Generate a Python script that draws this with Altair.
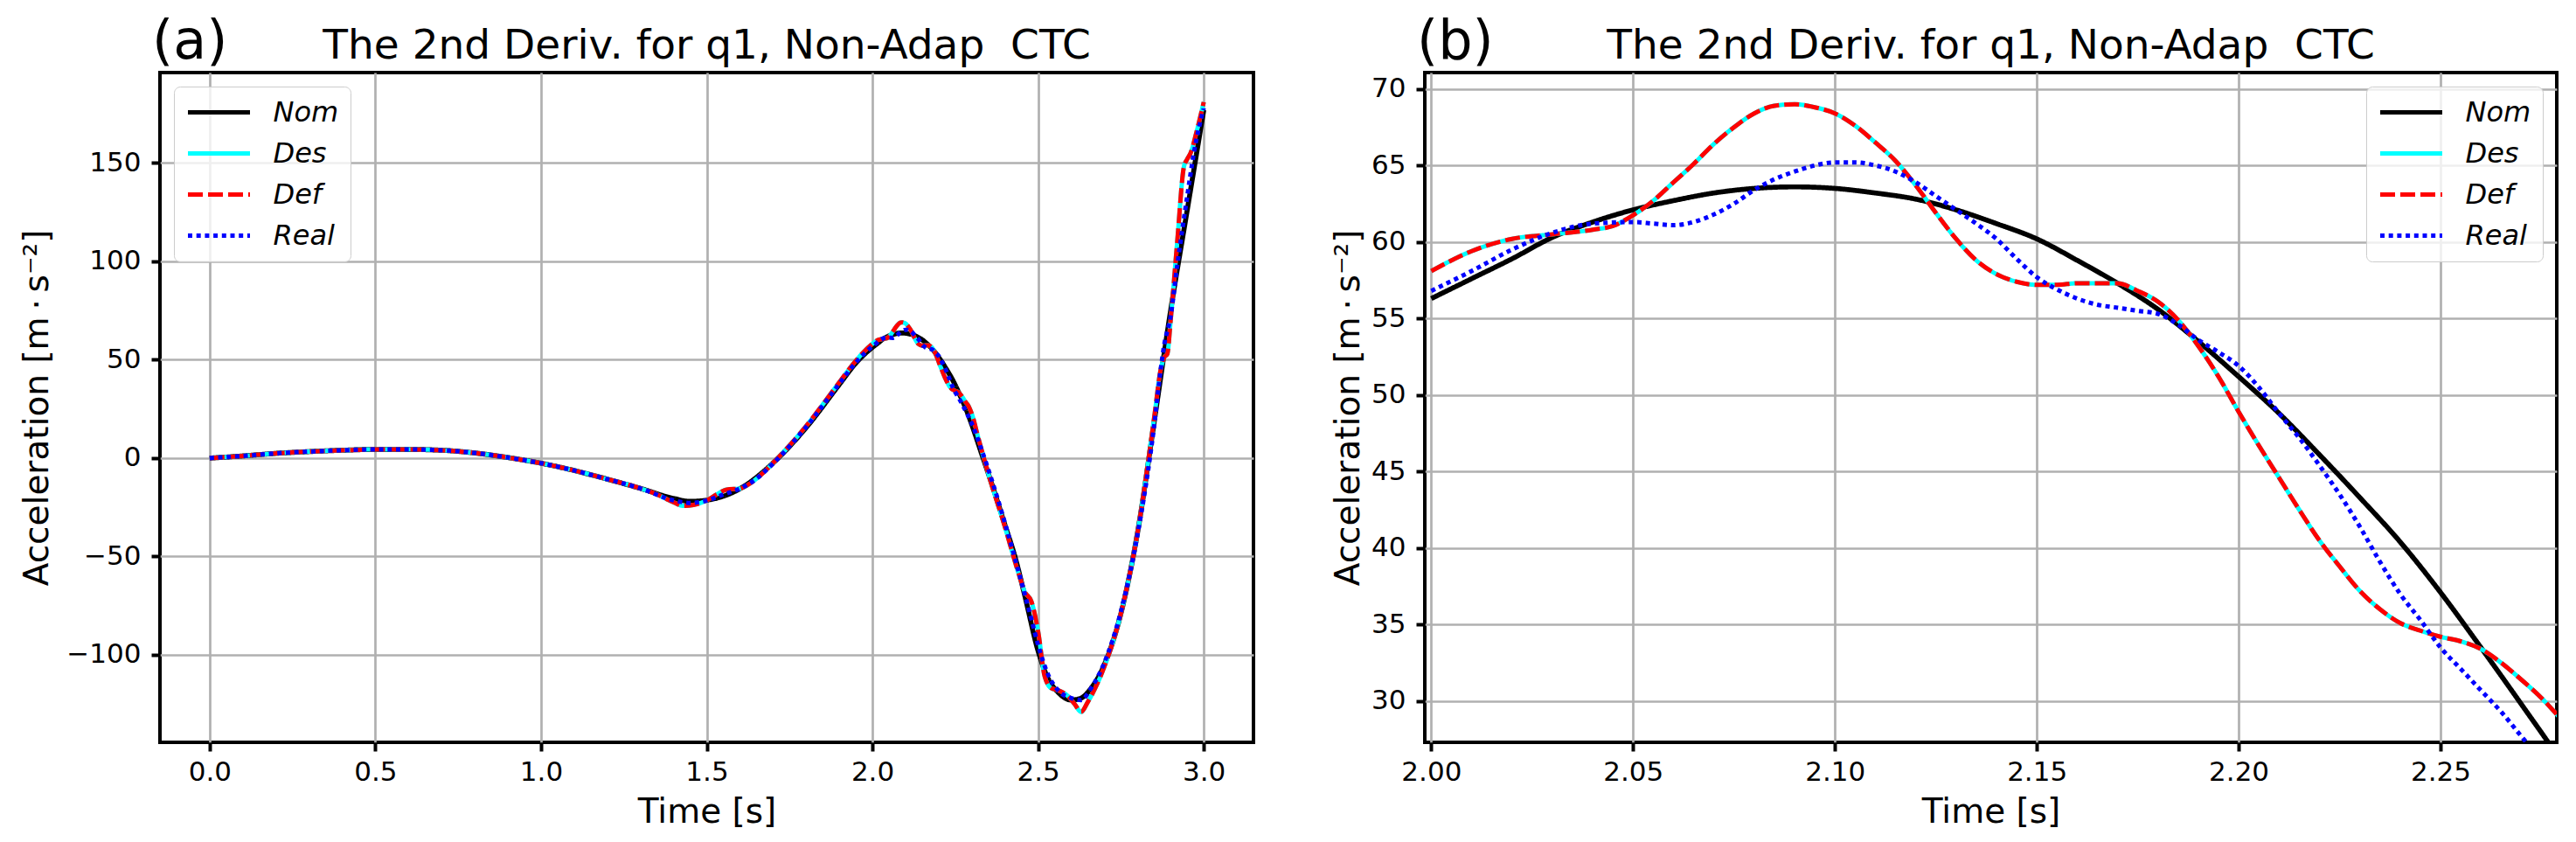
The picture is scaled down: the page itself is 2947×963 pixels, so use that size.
import altair as alt
import pandas as pd

FONT = "DejaVu Sans"
TITLE = "The 2nd Deriv. for q1, Non-Adap\u00a0 CTC"
YTITLE = "Acceleration [m\u2009·\u2009s⁻²]"

SERIES = ["Nom", "Des", "Def", "Real"]
COLORS = ["#000000", "#00ffff", "#ff0000", "#0000ff"]
DASHES = [[1, 0], [1, 0], [17, 6], [5, 4.7]]
WIDTHS = [5.7, 5, 5, 5]

# ---- Nominal (black) ----
NOM_T = [0.0, 0.1, 0.2, 0.3, 0.4, 0.5, 0.6, 0.7, 0.8, 0.9, 1.0, 1.1, 1.2, 1.3,
         1.4, 1.45, 1.5, 1.6, 1.7, 1.8, 1.9, 1.95,
         2.0, 2.01, 2.02, 2.03, 2.04, 2.05, 2.06, 2.07, 2.08, 2.09, 2.10, 2.11,
         2.12, 2.13, 2.14, 2.15, 2.16, 2.17, 2.18, 2.19, 2.20, 2.21, 2.22, 2.23,
         2.24, 2.25, 2.26, 2.27, 2.28,
         2.30, 2.33, 2.36, 2.40, 2.43, 2.46, 2.50, 2.53, 2.56, 2.60, 2.63, 2.66,
         2.70, 2.75, 2.80, 2.85, 2.90, 2.95, 3.0]
NOM_V = [0.0, 1.1, 2.4, 3.3, 4.0, 4.4, 4.4, 4.0, 2.6, 0.3, -2.6, -6.3, -10.7, -15.4,
         -20.5, -22.0, -21.4, -15.6, -2.5, 15.5, 37.4, 48.3,
         56.3, 57.6, 58.9, 60.3, 61.3, 62.1, 62.7, 63.2, 63.5, 63.6, 63.5, 63.2,
         62.8, 62.1, 61.2, 60.2, 58.8, 57.3, 55.6, 53.5, 51.2, 48.8, 46.1, 43.3,
         40.4, 37.1, 33.5, 29.8, 26.0,
         17.0, 2.0, -13.0, -34.0, -50.0, -70.0, -98.0, -112.0, -119.0, -123.0, -122.0, -117.0,
         -105.0, -79.0, -38.0, 18.0, 75.0, 126.0, 177.0]

# ---- Desired (cyan) ----
DES_T = [0.0, 0.1, 0.2, 0.3, 0.4, 0.5, 0.6, 0.7, 0.8, 0.9, 1.0, 1.1, 1.2, 1.3,
         1.35, 1.4, 1.43, 1.46, 1.5, 1.53, 1.56, 1.6, 1.63, 1.67, 1.7, 1.8, 1.9, 1.95,
         2.0, 2.01, 2.02, 2.03, 2.04, 2.045, 2.05, 2.055, 2.06, 2.065, 2.07, 2.075,
         2.08, 2.085, 2.09, 2.095, 2.10, 2.105, 2.11, 2.115, 2.12, 2.125, 2.13, 2.135,
         2.14, 2.145, 2.15, 2.155, 2.16, 2.165, 2.17, 2.175, 2.18, 2.185, 2.19, 2.195,
         2.20, 2.205, 2.21, 2.215, 2.22, 2.225, 2.23, 2.235, 2.24, 2.245, 2.25, 2.255,
         2.26, 2.265, 2.27, 2.275, 2.28,
         2.29, 2.30, 2.32, 2.35, 2.40, 2.44, 2.46, 2.48, 2.50, 2.52, 2.54, 2.56, 2.59,
         2.61, 2.63, 2.65, 2.70, 2.75, 2.80, 2.85, 2.87, 2.88, 2.89, 2.90, 2.92, 2.94,
         2.95, 2.96, 2.98, 3.0]
DES_V = [0.0, 1.1, 2.4, 3.3, 4.0, 4.4, 4.4, 4.0, 2.6, 0.3, -2.6, -6.3, -10.7, -15.4,
         -18.5, -22.5, -24.3, -23.8, -21.5, -18.5, -16.0, -15.5, -13.0, -7.5, -2.5, 16.3, 38.5, 49.5,
         58.1, 59.4, 60.2, 60.5, 60.8, 61.05, 61.75, 62.7, 63.9, 65.1, 66.4, 67.5,
         68.4, 68.9, 69.0, 68.8, 68.4, 67.6, 66.5, 65.3, 63.7, 61.9, 60.2, 58.8,
         57.9, 57.4, 57.2, 57.2, 57.3, 57.3, 57.3, 56.8, 56.1, 54.9, 53.2, 51.2,
         48.9, 46.7, 44.6, 42.5, 40.5, 38.8, 37.2, 36.0, 35.1, 34.6, 34.2, 33.9,
         33.4, 32.5, 31.4, 30.2, 28.8,
         26.5, 22.5, 10.0, -8.0, -35.0, -58.0, -68.0, -73.0, -88.0, -111.0, -117.0, -118.0, -121.0,
         -125.0, -129.0, -124.0, -106.0, -79.0, -38.0, 20.0, 45.0, 51.0, 53.0, 70.0, 110.0, 148.0,
         152.0, 155.0, 167.0, 181.0]

# ---- Deformed (red dashed) : read as lying on the cyan curve ----
DEF_T = list(DES_T)
DEF_V = list(DES_V)

# ---- Real (blue dotted) ----
REAL_T = [0.0, 0.1, 0.2, 0.3, 0.4, 0.5, 0.6, 0.7, 0.8, 0.9, 1.0, 1.1, 1.2, 1.3,
          1.4, 1.45, 1.5, 1.55, 1.6, 1.65, 1.7, 1.8, 1.9, 1.95,
          2.0, 2.01, 2.02, 2.03, 2.04, 2.05, 2.055, 2.06, 2.065, 2.07, 2.075, 2.08,
          2.085, 2.09, 2.095, 2.10, 2.105, 2.11, 2.115, 2.12, 2.125, 2.13, 2.135, 2.14,
          2.145, 2.15, 2.155, 2.16, 2.165, 2.17, 2.175, 2.18, 2.185, 2.19, 2.195, 2.20,
          2.205, 2.21, 2.215, 2.22, 2.225, 2.23, 2.235, 2.24, 2.245, 2.25, 2.255, 2.26,
          2.265, 2.27, 2.28,
          2.30, 2.33, 2.36, 2.40, 2.44, 2.48, 2.50, 2.53, 2.56, 2.60, 2.63, 2.66, 2.70,
          2.75, 2.80, 2.85, 2.87, 2.88, 2.90, 2.92, 2.95, 2.97, 3.0]
REAL_V = [0.0, 1.1, 2.4, 3.3, 4.0, 4.4, 4.4, 4.0, 2.6, 0.3, -2.6, -6.3, -10.7, -15.4,
          -21.5, -22.8, -21.6, -18.5, -15.5, -10.5, -2.8, 15.8, 37.8, 48.6,
          56.8, 58.1, 59.5, 60.6, 61.2, 61.3, 61.2, 61.1, 61.3, 61.8, 62.5, 63.4,
          64.1, 64.6, 65.0, 65.2, 65.2, 65.0, 64.6, 63.9, 63.0, 62.1, 61.2, 60.2,
          58.9, 57.7, 56.9, 56.3, 55.9, 55.7, 55.5, 55.3, 54.6, 53.6, 52.8, 51.9,
          50.5, 48.8, 47.2, 45.4, 43.5, 41.4, 39.1, 37.0, 35.3, 33.5, 32.1, 30.7,
          29.3, 27.7, 24.5,
          17.5, 4.0, -11.0, -33.0, -57.0, -82.0, -95.0, -110.0, -118.0, -122.0, -123.0, -117.0, -104.0,
          -78.0, -39.0, 16.0, 45.0, 57.0, 72.0, 98.0, 133.0, 155.0, 178.0]

rows = []
for name, ts, vs in [("Nom", NOM_T, NOM_V), ("Des", DES_T, DES_V),
                     ("Def", DEF_T, DEF_V), ("Real", REAL_T, REAL_V)]:
    for t, v in zip(ts, vs):
        rows.append({"series": name, "t": t, "v": v})
df = pd.DataFrame(rows)

legend_common = dict(
    title=None, offset=16, symbolType="stroke", symbolSize=5041, symbolStrokeWidth=5,
    labelFont=FONT, labelFontStyle="italic", labelFontSize=32, labelColor="black",
    labelOffset=24, rowPadding=15, padding=13.5, labelLimit=400, clipHeight=32,
    fillColor="rgba(255,255,255,0.8)", strokeColor="#cccccc", cornerRadius=7,
)


def panel(tag, xdom, ydom, xvals, yvals, xfmt, w, h, legend_orient,
          y_extent, y_tpad, tmin, tmax):
    leg = alt.Legend(orient=legend_orient, **legend_common)
    color = alt.Color("series:N", scale=alt.Scale(domain=SERIES, range=COLORS), legend=leg)
    dash = alt.StrokeDash("series:N", scale=alt.Scale(domain=SERIES, range=DASHES), legend=leg)
    x = alt.X("t:Q", scale=alt.Scale(domain=xdom, nice=False, zero=False),
              axis=alt.Axis(values=xvals, format=xfmt, title="Time [s]", grid=True,
                            gridColor="#b0b0b0", gridWidth=2.7, domain=False,
                            tickColor="black", tickWidth=4, tickSize=10,
                            labelFont=FONT, labelFontSize=31, labelColor="black",
                            labelPadding=9, labelFlush=False, labelOverlap=False,
                            titleFont=FONT, titleFontSize=39, titleFontWeight="normal",
                            titleColor="black", titlePadding=10.5,
                            minExtent=50, maxExtent=50))
    y = alt.Y("v:Q", scale=alt.Scale(domain=ydom, nice=False, zero=False),
              axis=alt.Axis(values=yvals, format="d", title=YTITLE, grid=True,
                            gridColor="#b0b0b0", gridWidth=2.7, domain=False,
                            tickColor="black", tickWidth=4, tickSize=10,
                            labelFont=FONT, labelFontSize=31, labelColor="black",
                            labelPadding=12, labelFlush=False, labelOverlap=False,
                            titleFont=FONT, titleFontSize=39, titleFontWeight="normal",
                            titleColor="black", titlePadding=y_tpad,
                            minExtent=y_extent, maxExtent=y_extent))
    layers = []
    for s, sw in zip(SERIES, WIDTHS):
        layers.append(
            alt.Chart(df)
            .transform_filter(alt.datum.series == s)
            .transform_filter((alt.datum.t >= tmin) & (alt.datum.t <= tmax))
            .mark_line(interpolate="monotone", strokeWidth=sw, clip=True)
            .encode(x=x, y=y, color=color, strokeDash=dash)
        )
    tag_layer = alt.Chart(pd.DataFrame({"label": [tag]})).mark_text(
        align="left", baseline="alphabetic", fontSize=62, font=FONT, color="black"
    ).encode(text="label:N", x=alt.value(-9), y=alt.value(-16.5))
    title_layer = alt.Chart(pd.DataFrame({"label": [TITLE]})).mark_text(
        align="center", baseline="alphabetic", fontSize=47, font=FONT, color="black"
    ).encode(text="label:N", x=alt.value(w / 2), y=alt.value(-16.5))
    return alt.layer(*layers, tag_layer, title_layer).properties(width=w, height=h)


pa = panel("(a)", [-0.15, 3.15], [-144.5, 196.0],
           [0.0, 0.5, 1.0, 1.5, 2.0, 2.5, 3.0], [-100, -50, 0, 50, 100, 150],
           ".1f", 1251, 766, "top-left", 107.5, 13, -1, 4)
pb = panel("(b)", [1.9984, 2.2788], [27.3, 71.07],
           [2.0, 2.05, 2.1, 2.15, 2.2, 2.25], [30, 35, 40, 45, 50, 55, 60, 65, 70],
           ".2f", 1295, 766, "top-right", 60, 8, 1.98, 2.30)

chart = (
    alt.hconcat(pa, pb, spacing=85)
    .resolve_scale(x="independent", y="independent", color="independent", strokeDash="independent")
    .resolve_legend(color="independent", strokeDash="independent")
    .properties(padding={"left": 13, "top": 6, "right": 5, "bottom": 5}, background="white")
    .configure_view(stroke="black", strokeWidth=4)
)

chart.save("out.html", embed_options={"renderer": "svg", "actions": False})
